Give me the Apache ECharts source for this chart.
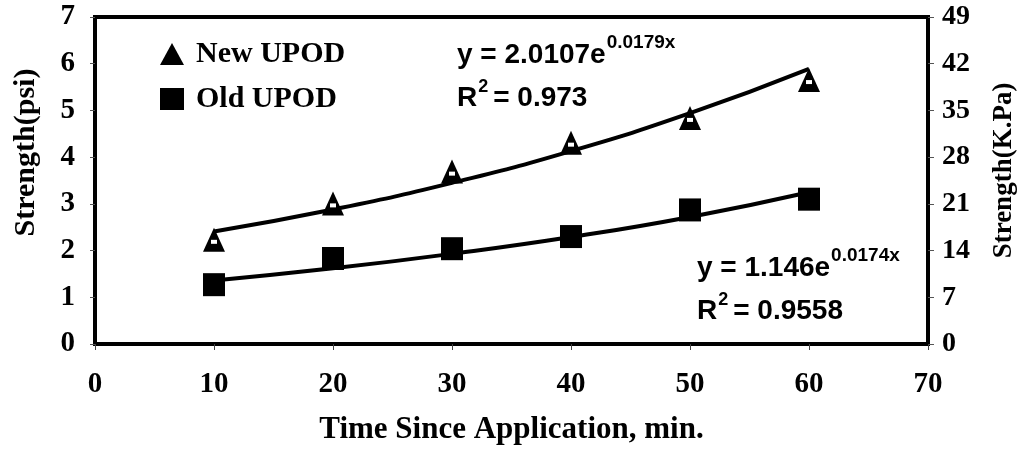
<!DOCTYPE html>
<html>
<head>
<meta charset="utf-8">
<script src="https://cdn.jsdelivr.net/npm/echarts@6/dist/echarts.min.js"></script>
<style>html,body{margin:0;padding:0;background:#fff}#c{width:1026px;height:452px}</style>
</head>
<body>
<div id="c"></div>
<script>
// Data
const times = [10, 20, 30, 40, 50, 60];
const newUpod = [2.23, 3.01, 3.69, 4.31, 4.84, 5.65];
const oldUpod = [1.27, 1.83, 2.04, 2.30, 2.87, 3.10];
// fitted trend values
const newTrend = [2.41, 2.88, 3.45, 4.13, 4.94, 5.89];
const oldTrend = [1.36, 1.62, 1.93, 2.29, 2.72, 3.25];
const leftTicks = [0, 1, 2, 3, 4, 5, 6, 7];
const rightTicks = [0, 7, 14, 21, 28, 35, 42, 49];
const xTicks = [0, 10, 20, 30, 40, 50, 60, 70];
const newEq = {base: 'y = 2.0107e', exp: '0.0179x', r2: '0.973'};
const oldEq = {base: 'y = 1.146e', exp: '0.0174x', r2: '0.9558'};

const pair = (xs, ys) => xs.map((x, i) => [x, ys[i]]);
const serif = 'Liberation Serif';
const eqFont = 'bold 28px "Liberation Sans"';
const supFont = 'bold 19px "Liberation Sans"';
const r2SupFont = 'bold 18px "Liberation Sans"';
const ctx = document.createElement('canvas').getContext('2d');
function tw(t, f) { ctx.font = f; return ctx.measureText(t).width; }

function equation(x, y, eq) {
  const w1 = tw(eq.base, eqFont);
  const wR = tw('R', eqFont);
  const w2 = tw('2', r2SupFont);
  return [
    {type: 'text', left: x, top: y, style: {text: eq.base, font: eqFont, fill: '#000'}},
    {type: 'text', left: x + w1 + 1, top: y - 8, style: {text: eq.exp, font: supFont, fill: '#000'}},
    {type: 'text', left: x, top: y + 43, style: {text: 'R', font: eqFont, fill: '#000'}},
    {type: 'text', left: x + wR + 1, top: y + 37, style: {text: '2', font: r2SupFont, fill: '#000'}},
    {type: 'text', left: x + wR + w2 + 6, top: y + 43, style: {text: '= ' + eq.r2, font: eqFont, fill: '#000'}}
  ];
}

const chart = echarts.init(document.getElementById('c'), null, {renderer: 'canvas'});
chart.setOption({
  animation: false,
  backgroundColor: '#fff',
  grid: {left: 95, right: 96, top: 17, bottom: 108, show: true, borderColor: '#000', borderWidth: 4, backgroundColor: 'transparent'},
  legend: {
    orient: 'vertical', left: 155, top: 34, itemGap: 15, itemWidth: 24, itemHeight: 22,
    data: [{name: 'New UPOD', icon: 'triangle'}, {name: 'Old UPOD', icon: 'rect'}],
    textStyle: {fontFamily: serif, fontWeight: 'bold', fontSize: 30, color: '#000', padding: [0, 0, 0, 7]}
  },
  xAxis: {
    type: 'value', min: xTicks[0], max: xTicks[xTicks.length - 1], interval: 10,
    axisLine: {show: false},
    axisTick: {show: true, length: 6, lineStyle: {color: '#444', width: 1}},
    splitLine: {show: false},
    axisLabel: {margin: 26, fontFamily: serif, fontWeight: 'bold', fontSize: 29, color: '#000'},
    name: 'Time Since Application, min.', nameLocation: 'middle', nameGap: 70,
    nameTextStyle: {fontFamily: serif, fontWeight: 'bold', fontSize: 31, color: '#000'}
  },
  yAxis: [{
    type: 'value', min: leftTicks[0], max: leftTicks[leftTicks.length - 1], interval: 1,
    axisLine: {show: false},
    axisTick: {show: true, length: 5, lineStyle: {color: '#555', width: 1}},
    splitLine: {show: false},
    axisLabel: {margin: 20, fontFamily: serif, fontWeight: 'bold', fontSize: 29, color: '#000'},
    name: 'Strength(psi)', nameLocation: 'middle', nameGap: 54, nameRotate: 90,
    nameTextStyle: {fontFamily: serif, fontWeight: 'bold', fontSize: 30, color: '#000', padding: [0, 0, 0, 56]}
  }, {
    type: 'value', position: 'right', min: rightTicks[0], max: rightTicks[rightTicks.length - 1], interval: 7,
    axisLine: {show: false},
    axisTick: {show: true, length: 6, lineStyle: {color: '#555', width: 1}},
    splitLine: {show: false},
    axisLabel: {margin: 14, fontFamily: serif, fontWeight: 'bold', fontSize: 28, color: '#000'},
    name: 'Strength(K.Pa)', nameLocation: 'middle', nameGap: 63, nameRotate: 90,
    nameTextStyle: {fontFamily: serif, fontWeight: 'bold', fontSize: 27, color: '#000', padding: [0, 0, 0, 20]}
  }],
  series: [
    {name: 'newTrend', type: 'line', smooth: true, showSymbol: false, data: pair(times, newTrend),
     lineStyle: {color: '#000', width: 4}, z: 2, silent: true},
    {name: 'oldTrend', type: 'line', smooth: true, showSymbol: false, data: pair(times, oldTrend),
     lineStyle: {color: '#000', width: 4}, z: 2, silent: true},
    {name: 'New UPOD', type: 'scatter', symbol: 'triangle', symbolSize: [22, 24], data: pair(times, newUpod),
     itemStyle: {color: '#000', opacity: 1}, z: 3},
    {name: 'newDot', type: 'scatter', symbol: 'rect', symbolSize: [6, 4], symbolOffset: [0, 2], data: pair(times, newUpod),
     itemStyle: {color: '#fff', opacity: 1}, z: 4, silent: true},
    {name: 'Old UPOD', type: 'scatter', symbol: 'rect', symbolSize: [22, 23], data: pair(times, oldUpod),
     itemStyle: {color: '#000', opacity: 1}, z: 3}
  ],
  graphic: [].concat(equation(457, 41, newEq), equation(697, 254, oldEq))
});
</script>
</body>
</html>
